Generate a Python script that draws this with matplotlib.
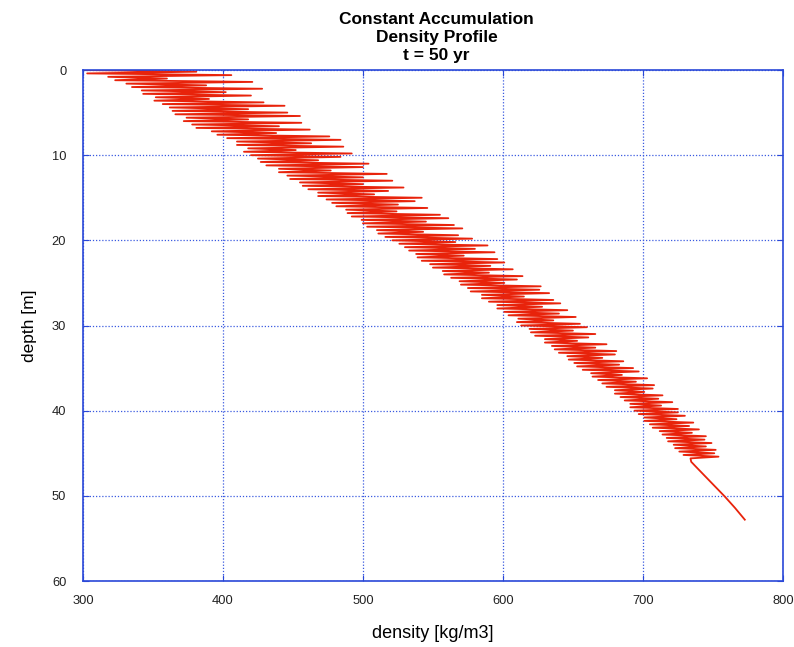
import numpy as np
import matplotlib.pyplot as plt

plt.rcParams['font.family'] = ['Liberation Sans', 'DejaVu Sans']

# seasonal layers: depth of the light / dense part [m] and density [kg/m3]
low_depth = [0.0, 0.4, 0.8, 1.2, 1.6, 2.0, 2.4, 2.8, 3.2, 3.6,
             4.0, 4.4, 4.8, 5.2, 5.6, 6.0, 6.4, 6.8, 7.2, 7.6,
             8.0, 8.4, 8.8, 9.2, 9.6, 10.0, 10.4, 10.8, 11.2, 11.6,
             12.0, 12.4, 12.8, 13.2, 13.6, 14.0, 14.4, 14.8, 15.2, 15.6,
             16.0, 16.4, 16.8, 17.2, 17.6, 18.0, 18.4, 18.8, 19.2, 19.6,
             20.0, 20.4, 20.8, 21.2, 21.6, 22.0, 22.4, 22.8, 23.2, 23.6,
             24.0, 24.4, 24.8, 25.2, 25.6, 26.0, 26.4, 26.8, 27.2, 27.6,
             28.0, 28.4, 28.8, 29.2, 29.6, 30.0, 30.4, 30.8, 31.2, 31.6,
             32.0, 32.4, 32.8, 33.2, 33.6, 34.0, 34.4, 34.8, 35.2, 35.6,
             36.0, 36.4, 36.8, 37.2, 37.6, 38.0, 38.4, 38.8, 39.2, 39.6,
             40.0, 40.4, 40.8, 41.2, 41.6, 42.0, 42.4, 42.8, 43.2, 43.6,
             44.0, 44.4, 44.8, 45.2]
high_depth = [0.2, 0.6, 1.0, 1.4, 1.8, 2.2, 2.6, 3.0, 3.4, 3.8,
              4.2, 4.6, 5.0, 5.4, 5.8, 6.2, 6.6, 7.0, 7.4, 7.8,
              8.2, 8.6, 9.0, 9.4, 9.8, 10.2, 10.6, 11.0, 11.4, 11.8,
              12.2, 12.6, 13.0, 13.4, 13.8, 14.2, 14.6, 15.0, 15.4, 15.8,
              16.2, 16.6, 17.0, 17.4, 17.8, 18.2, 18.6, 19.0, 19.4, 19.8,
              20.2, 20.6, 21.0, 21.4, 21.8, 22.2, 22.6, 23.0, 23.4, 23.8,
              24.2, 24.6, 25.0, 25.4, 25.8, 26.2, 26.6, 27.0, 27.4, 27.8,
              28.2, 28.6, 29.0, 29.4, 29.8, 30.2, 30.6, 31.0, 31.4, 31.8,
              32.2, 32.6, 33.0, 33.4, 33.8, 34.2, 34.6, 35.0, 35.4, 35.8,
              36.2, 36.6, 37.0, 37.4, 37.8, 38.2, 38.6, 39.0, 39.4, 39.8,
              40.2, 40.6, 41.0, 41.4, 41.8, 42.2, 42.6, 43.0, 43.4, 43.8,
              44.2, 44.6, 45.0, 45.4]
rho_low = [300, 303, 318, 323, 331, 335, 342, 343, 352, 351,
           357, 362, 364, 366, 374, 372, 378, 381, 392, 396,
           403, 410, 410, 418, 415, 420, 425, 427, 431, 440,
           440, 446, 448, 455, 457, 461, 468, 468, 474, 478,
           481, 488, 489, 492, 499, 500, 503, 510, 511, 516,
           521, 526, 530, 533, 538, 539, 542, 548, 550, 557,
           558, 563, 569, 570, 575, 577, 585, 585, 590, 596,
           596, 601, 604, 611, 610, 613, 619, 620, 623, 630,
           630, 635, 637, 640, 646, 647, 651, 653, 657, 663,
           664, 668, 671, 674, 680, 680, 684, 687, 691, 691,
           694, 697, 701, 701, 705, 707, 712, 714, 717, 718,
           722, 723, 726, 729]
rho_high = [381, 406, 360, 421, 388, 428, 402, 420, 390, 429,
            444, 418, 446, 455, 418, 456, 440, 462, 438, 476,
            484, 463, 486, 452, 492, 484, 468, 504, 500, 477,
            517, 500, 521, 500, 529, 518, 508, 542, 537, 525,
            546, 524, 555, 561, 545, 565, 571, 543, 568, 578,
            566, 589, 580, 594, 572, 596, 601, 591, 607, 590,
            614, 610, 601, 627, 626, 633, 615, 636, 641, 628,
            646, 640, 652, 636, 655, 660, 650, 666, 661, 653,
            674, 666, 681, 680, 671, 686, 683, 693, 697, 685,
            703, 695, 708, 707, 701, 714, 711, 721, 713, 725,
            725, 730, 724, 736, 733, 740, 735, 745, 744, 749,
            745, 752, 751, 754]

# below the layered zone
tail_depth = [45.6, 46.0, 46.5, 47.7, 48.9, 50.1, 51.4, 52.8]
tail_rho = [734, 734.5, 737.4, 744.5, 751.5, 758.6, 765.7, 772.8]

depth = np.concatenate([np.column_stack([low_depth, high_depth]).ravel(), tail_depth])
rho = np.concatenate([np.column_stack([rho_low, rho_high]).ravel(), tail_rho])

blue = '#2a48d8'

fig = plt.figure(figsize=(7.94, 6.47), dpi=100)
ax = fig.add_axes([0.1045, 0.102, 0.8815, 0.7898])

ax.plot(rho, depth, color='#e8230b', lw=1.3)

ax.set_xlim(300, 800)
ax.set_ylim(60, 0)
ax.set_xticks([300, 400, 500, 600, 700, 800])
ax.set_yticks([0, 10, 20, 30, 40, 50, 60])
ax.grid(True, color='#3a5ae0', linestyle=(0, (1, 1.5)), lw=0.9)
for s in ax.spines.values():
    s.set_color(blue)
    s.set_linewidth(1.2)
ax.tick_params(direction='in', length=4, color=blue, top=True, right=True,
               labelsize=9.3, labelcolor='#222222')
ax.tick_params(axis='x', pad=10)
ax.tick_params(axis='y', pad=12)

ax.set_xlabel('density [kg/m3]', fontsize=13, labelpad=13)
ax.set_ylabel('depth [m]', fontsize=12.5, labelpad=11)
ax.set_title('Constant Accumulation\nDensity Profile\nt = 50 yr',
             fontsize=12.5, fontweight='bold', linespacing=1.25, pad=7, x=0.505)

fig.savefig('out.png', dpi=100)
